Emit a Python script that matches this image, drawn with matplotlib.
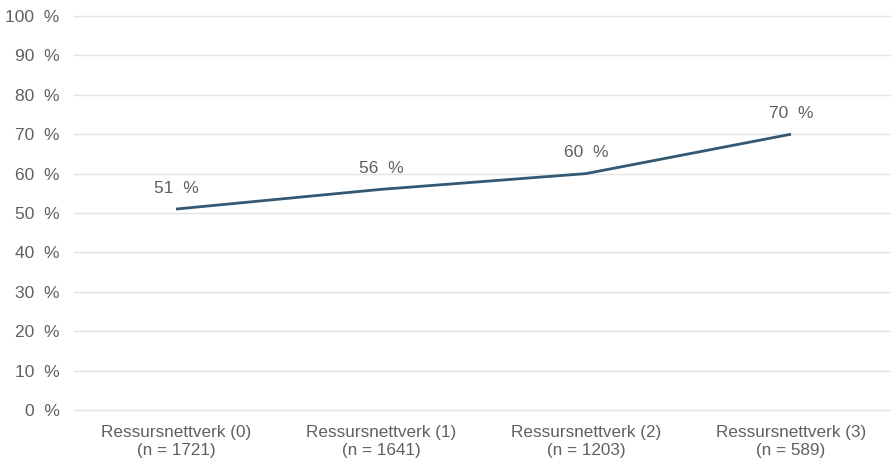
import numpy as np
import matplotlib.pyplot as plt

categories = ["Ressursnettverk (0)\n(n = 1721)", "Ressursnettverk (1)\n(n = 1641)",
              "Ressursnettverk (2)\n(n = 1203)", "Ressursnettverk (3)\n(n = 589)"]
values = [51, 56, 60, 70]
y_ticks = list(range(0, 101, 10))

plt.rcParams['font.family'] = ['Liberation Sans', 'DejaVu Sans']

line_color = "#325873"
text_color = "#606060"

fig = plt.figure(figsize=(8.91, 4.65), dpi=100)
ax = fig.add_axes([73.5 / 891, 1 - 410 / 465, 820 / 891, (410 - 16) / 465])

x = np.arange(len(categories))
ax.plot(x, values, color=line_color, linewidth=2.0, solid_capstyle='butt', zorder=3)
for xi, v in zip(x, values):
    ax.annotate(f"{v}  %", (xi, v), xytext=(0, 15), textcoords='offset points',
                ha='center', va='center', fontsize=12.5, color=text_color)

ax.set_xlim(-0.5, 3.5)
ax.set_ylim(0, 100)
ax.set_yticks(y_ticks)
ax.set_yticklabels([f"{t}  %" for t in y_ticks], fontsize=12.5, color=text_color)
ax.set_xticks(x)
ax.set_xticklabels(categories, fontsize=12.3, color=text_color, linespacing=1.25)
ax.tick_params(axis='both', length=0)
ax.tick_params(axis='y', pad=10)
ax.tick_params(axis='x', pad=11)
ax.grid(axis='y', color='#e3e3e3', linewidth=1.0)
for gl in ax.get_ygridlines():
    gl.set_clip_on(False)
ax.set_axisbelow(True)
for s in ax.spines.values():
    s.set_visible(False)

fig.savefig("out.png", dpi=100)
